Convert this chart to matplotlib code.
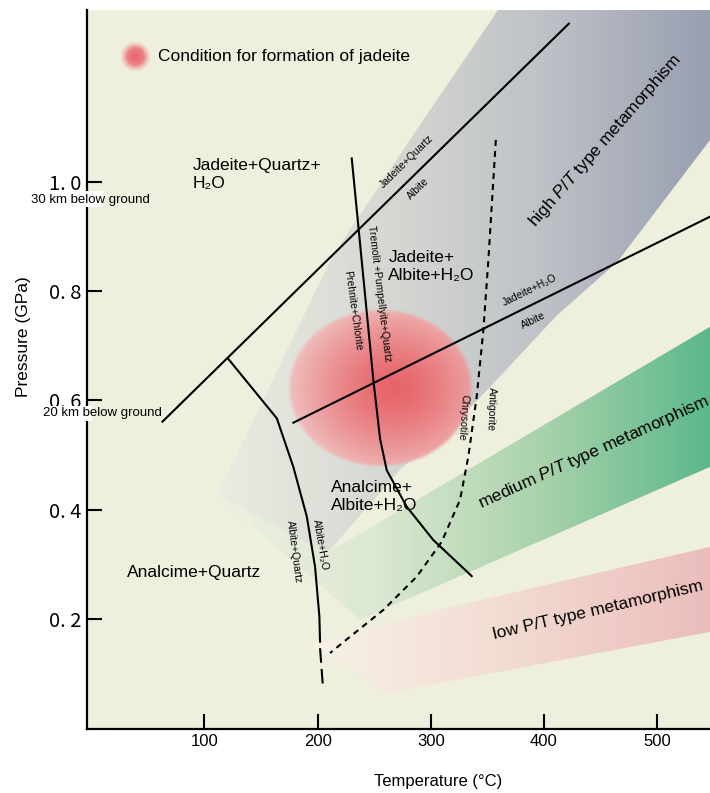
import matplotlib.pyplot as plt
import numpy as np
from matplotlib.colors import LinearSegmentedColormap, to_rgb
from matplotlib.patches import Polygon, Rectangle

plt.rcParams['font.family'] = ['Liberation Sans', 'DejaVu Sans']
plt.rcParams['mathtext.fontset'] = 'custom'
plt.rcParams['mathtext.rm'] = 'Liberation Sans'
plt.rcParams['mathtext.it'] = 'Liberation Sans:italic'

# temperature in degC, pressure in GPa
x_ticks = [100, 200, 300, 400, 500]
y_ticks = [0.2, 0.4, 0.6, 0.8, 1.0]
y_tick_labels = ['0. 2', '0. 4', '0. 6', '0. 8', '1. 0']

# analcime = jadeite + quartz (20 km .. 30 km line)
depth_T = [63, 422]
depth_P = [0.561, 1.290]

# albite + quartz / albite + H2O
analcime_T = [120.7, 164.0, 178.6, 190.5, 197.8, 201.6, 202.2]
analcime_P = [0.677, 0.567, 0.478, 0.387, 0.295, 0.204, 0.158]
analcime_ext_T = [202.2, 204.6]
analcime_ext_P = [0.146, 0.079]

# prehnite+chlorite / tremolite+pumpellyite+quartz
tremolite_T = [230.2, 249.3, 255.2, 261.1, 278.8, 302.3, 336.2]
tremolite_P = [1.043, 0.637, 0.530, 0.472, 0.405, 0.344, 0.278]

# jadeite + H2O / albite
jd_h2o_T = [178.6, 560]
jd_h2o_P = [0.559, 0.950]

# chrysotile / antigorite (dashed)
serp_T = [357.5, 350.9, 346.5, 340.6, 333.2, 325.9, 309.7, 287.6, 258.1, 228.7, 211.0]
serp_P = [1.077, 0.857, 0.729, 0.607, 0.497, 0.418, 0.341, 0.277, 0.216, 0.167, 0.137]

# metamorphism bands
high_T = [111.4, 208.4, 272.9, 340.0, 411.6, 464.6, 560, 560, 371, 284.4, 237.4, 213.6]
high_P = [0.427, 0.320, 0.473, 0.597, 0.756, 0.853, 1.113, 1.35, 1.35, 1.086, 0.939, 0.866]
medium_T = [111.4, 237.5, 560, 560, 208.4]
medium_P = [0.427, 0.198, 0.490, 0.751, 0.320]
low_T = [193.3, 261.3, 560, 560, 317.1]
low_P = [0.152, 0.064, 0.181, 0.338, 0.221]

# jadeite formation condition (centre, radii)
jd_center = (255.2, 0.623)
jd_radius = (82.2, 0.1465)
legend_center = (38.8, 1.229)
legend_radius = (13.3, 0.0275)

xmin, xmax = -3.4, 546.7
ymin, ymax = -0.0015, 1.315
bg = '#EEEFDC'

fig = plt.figure(figsize=(7.1, 7.93), dpi=100)
ax = fig.add_axes([0.123, 0.0811, 0.877, 0.9063])
ax.set_facecolor(bg)


def band(T, P, stops):
    poly = Polygon(np.column_stack([T, P]), closed=True, facecolor='none', edgecolor='none')
    ax.add_patch(poly)
    pos = [0.0] + [(t - xmin) / (560 - xmin) for t, c in stops] + [1.0]
    cols = [stops[0][1]] + [c for t, c in stops] + [stops[-1][1]]
    cmap = LinearSegmentedColormap.from_list('band', list(zip(pos, cols)))
    grad = np.linspace(0, 1, 512).reshape(1, -1)
    im = ax.imshow(grad, cmap=cmap, extent=[xmin, 560, -0.1, 1.4], aspect='auto',
                   origin='lower', interpolation='bilinear', zorder=1)
    im.set_clip_path(poly)


band(medium_T, medium_P, [(100, '#EEF1E2'), (250, '#DCE8D2'), (400, '#A9D2AB'), (560, '#55B688')])
band(low_T, low_P, [(180, '#F7F3E8'), (350, '#F3DED4'), (560, '#EABBBA')])
band(high_T, high_P, [(100, '#ECEEE4'), (250, '#D7DAD3'), (400, '#BEC1C6'), (560, '#959CAF')])


def blob(center, radius, c_in, c_out, edge, shift=0.0):
    tt = np.linspace(center[0] - radius[0], center[0] + radius[0], 300)
    pp = np.linspace(center[1] - radius[1], center[1] + radius[1], 300)
    TT, PP = np.meshgrid(tt, pp)
    d = np.hypot((TT - center[0]) / radius[0], (PP - center[1]) / radius[1])
    dc = np.hypot((TT - center[0] - shift * radius[0]) / radius[0], (PP - center[1]) / radius[1])
    f = np.clip(dc / (1 + shift), 0, 1)[..., None] ** 1.4
    rgb = np.array(to_rgb(c_in)) * (1 - f) + np.array(to_rgb(c_out)) * f
    alpha = np.clip((1 - d) / edge, 0, 1)[..., None]
    img = np.concatenate([rgb, alpha], axis=2)
    ax.imshow(img, extent=[tt[0], tt[-1], pp[0], pp[-1]], origin='lower',
              aspect='auto', interpolation='bilinear', zorder=2)


blob(jd_center, jd_radius, '#E6646A', '#F0C2C0', 0.05, shift=0.15)
blob(legend_center, legend_radius, '#E8686D', '#F2A8A8', 0.45)

# phase boundaries
lw = 1.5
ax.plot(depth_T, depth_P, color='black', lw=lw, zorder=3)
ax.plot(analcime_T, analcime_P, color='black', lw=lw, zorder=3)
ax.plot(analcime_ext_T, analcime_ext_P, color='black', lw=lw, ls=(0, (7, 3)), zorder=3)
ax.plot(tremolite_T, tremolite_P, color='black', lw=lw, zorder=3)
ax.plot(jd_h2o_T, jd_h2o_P, color='black', lw=lw, zorder=3)
ax.plot(serp_T, serp_P, color='black', lw=lw, ls=(0, (2.9, 2.4)), zorder=3)

# field labels
big = 12.5
ax.text(90.0, 1.0135, 'Jadeite+Quartz+\nH₂O', ha='left', va='center', fontsize=big, zorder=5)
ax.text(262.5, 0.845, 'Jadeite+\nAlbite+H₂O', ha='left', va='center', fontsize=big, zorder=5)
ax.text(211.9, 0.424, 'Analcime+\nAlbite+H₂O', ha='left', va='center', fontsize=big, zorder=5)
ax.text(31.4, 0.284, 'Analcime+Quartz', ha='left', va='center', fontsize=big, zorder=5)
ax.text(59.4, 1.229, 'Condition for formation of jadeite', ha='left', va='center', fontsize=big, zorder=5)

small = 7.5
for s, t, p, r in [('Jadeite+Quartz', 278.6, 1.037, 44.5),
                   ('Albite', 289.0, 0.988, 44.5),
                   ('Jadeite+H₂O', 387.7, 0.802, 26.3),
                   ('Albite', 390.6, 0.747, 26.3),
                   ('Tremolit +Pumpellyite+Quartz', 254.3, 0.795, -83),
                   ('Prehnite+Chlorite', 230.9, 0.765, -82),
                   ('Chrysotile', 328.8, 0.5685, -94),
                   ('Antigorite', 353.1, 0.584, -92),
                   ('Albite+Quartz', 179.2, 0.3227, -82.5),
                   ('Albite+H₂O', 202.9, 0.335, -80)]:
    ax.text(t, p, s, ha='center', va='center', rotation=r, rotation_mode='anchor',
            fontsize=small, zorder=5)

ax.text(453.9, 1.075, 'high $P/T$ type metamorphism', ha='center', va='center',
        rotation=48.9, rotation_mode='anchor', fontsize=big, zorder=5)
ax.text(444.3, 0.504, 'medium $P/T$ type metamorphism', ha='center', va='center',
        rotation=24.4, rotation_mode='anchor', fontsize=big, zorder=5)
ax.text(448.1, 0.216, 'low P/T type metamorphism', ha='center', va='center',
        rotation=13.2, rotation_mode='anchor', fontsize=big, zorder=5)

# depth notes on the pressure axis
ax.add_patch(Rectangle((-57.4, 0.955), 67.9, 0.029, facecolor='white', edgecolor='none',
                       clip_on=False, zorder=6))
ax.add_patch(Rectangle((-46.9, 0.562), 47.7, 0.028, facecolor='white', edgecolor='none',
                       clip_on=False, zorder=6))
ax.text(-1.0, 0.967, '30 km below ground', ha='center', va='center', fontsize=9.5,
        clip_on=False, zorder=7)
ax.text(10.1, 0.576, '20 km below ground', ha='center', va='center', fontsize=9.5,
        clip_on=False, zorder=7)

ax.set_xlim(xmin, xmax)
ax.set_ylim(ymin, ymax)
ax.set_xticks(x_ticks)
ax.set_xticklabels([str(v) for v in x_ticks], fontsize=12)
ax.set_yticks(y_ticks)
ax.set_yticklabels(y_tick_labels, fontsize=14.5, family=['Noto Sans CJK JP', 'DejaVu Sans'])
ax.tick_params(direction='in', length=11, width=1.5, colors='black', pad=4)
for side in ['top', 'right']:
    ax.spines[side].set_visible(False)
for side in ['left', 'bottom']:
    ax.spines[side].set_linewidth(1.6)
    ax.spines[side].set_zorder(4)

ax.set_xlabel('Temperature (°C)', fontsize=12, va='center')
ax.xaxis.set_label_coords(0.563, -0.0737)
ax.set_ylabel('Pressure (GPa)', fontsize=12.5, va='center')
ax.yaxis.set_label_coords(-0.103, 0.545)

fig.savefig('out.png', dpi=100)
